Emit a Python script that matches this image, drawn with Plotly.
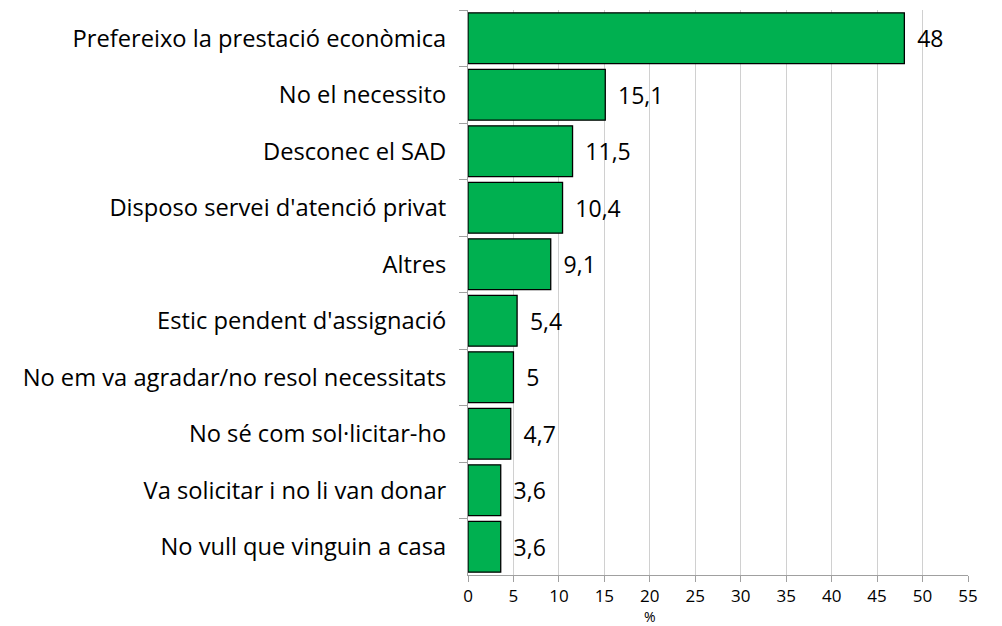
import plotly.graph_objects as go

# --- Data ---
categories = [
    "Prefereixo la prestació econòmica",
    "No el necessito",
    "Desconec el SAD",
    "Disposo servei d'atenció privat",
    "Altres",
    "Estic pendent d'assignació",
    "No em va agradar/no resol necessitats",
    "No sé com sol·licitar-ho",
    "Va solicitar i no li van donar",
    "No vull que vinguin a casa",
]
values = [48, 15.1, 11.5, 10.4, 9.1, 5.4, 5, 4.7, 3.6, 3.6]
value_labels = ["48", "15,1", "11,5", "10,4", "9,1", "5,4", "5", "4,7", "3,6", "3,6"]
x_ticks = list(range(0, 60, 5))
axis_title = "%"

fig = go.Figure()
fig.add_trace(go.Bar(
    y=categories,
    x=values,
    orientation="h",
    text=value_labels,
    texttemplate="\u00a0\u2009%{text}",
    textposition="outside",
    textfont=dict(size=23, color="black"),
    cliponaxis=False,
    marker=dict(color="#00B050", line=dict(color="black", width=1.3)),
))

# the "%" sits under the 20 tick in the original, not centred
fig.add_annotation(
    x=20, xref="x", y=0, yref="paper",
    text=axis_title, showarrow=False,
    yanchor="middle", yshift=-41,
    font=dict(size=14),
)

# page body has an 8px margin, so the figure is shrunk and shifted to compensate
fig.update_layout(
    width=994,
    height=618,
    plot_bgcolor="white",
    paper_bgcolor="white",
    font=dict(family="Open Sans, sans-serif", size=18, color="black"),
    showlegend=False,
    bargap=0.1,
    margin=dict(l=460, r=34, t=2, b=51, autoexpand=False),
)

fig.update_xaxes(
    range=[0, 55],
    tickvals=x_ticks,
    ticktext=[str(v) for v in x_ticks],
    showgrid=True,
    gridcolor="#d0d0d0",
    showline=True,
    linecolor="#a0a0a0",
    ticks="outside",
    ticklen=6,
    tickcolor="#a0a0a0",
    tickfont=dict(size=17),
    ticklabelstandoff=0,
    zeroline=False,
)
fig.update_yaxes(
    autorange="reversed",
    showline=True,
    linecolor="#a0a0a0",
    ticks="outside",
    tickson="boundaries",
    ticklen=8,
    tickcolor="#a0a0a0",
    tickfont=dict(size=23.7),
    ticklabelstandoff=16,
)

fig.write_html("out.html")
